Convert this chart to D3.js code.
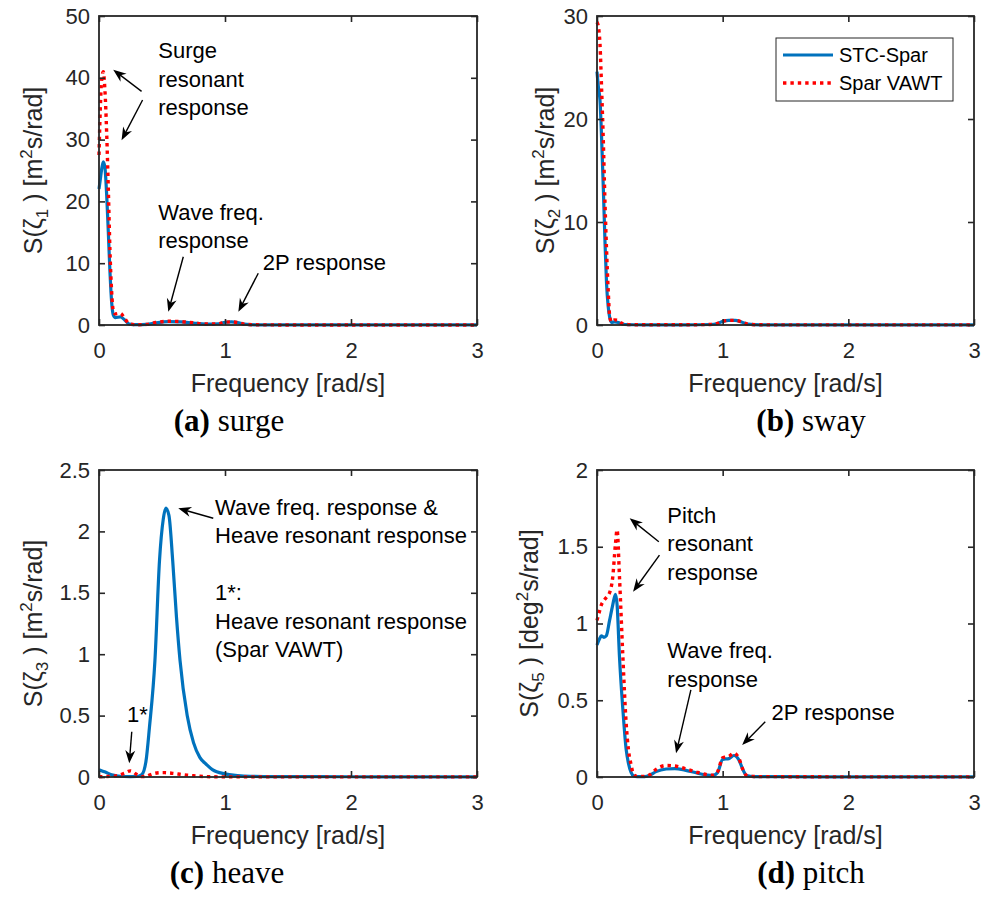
<!DOCTYPE html>
<html><head><meta charset="utf-8">
<script src="https://cdn.jsdelivr.net/npm/d3@7/dist/d3.min.js"></script>
<style>body{margin:0;background:#fff;} svg{display:block;}</style>
</head><body><svg id="chart" width="981" height="899"></svg>
<script>
// ---------------- data ----------------
const xTicks = [0, 1, 2, 3];
const seriesNames = ["STC-Spar", "Spar VAWT"];

const freqSurge = [0, 0.01, 0.021, 0.034, 0.047, 0.061, 0.074, 0.087, 0.1, 0.114, 0.13, 0.17, 0.2, 0.24, 0.3, 0.38, 0.45, 0.55, 0.65, 0.75, 0.85, 0.95, 1.0, 1.05, 1.1, 1.15, 1.25, 1.5, 2, 2.5, 3];
const surgeSTC  = [22, 23.5, 25.2, 26.4, 25.5, 21, 15, 8.6, 3.8, 1.6, 1.2, 1.3, 0.9, 0.15, 0.05, 0.1, 0.35, 0.55, 0.5, 0.3, 0.15, 0.2, 0.45, 0.5, 0.4, 0.15, 0.03, 0.01, 0.01, 0.01, 0.01];
const surgeVAWT = [27.5, 34.8, 39.6, 41, 38, 31, 22, 12, 5.5, 2.2, 1.8, 1.9, 1.2, 0.2, 0.05, 0.1, 0.4, 0.6, 0.55, 0.35, 0.15, 0.2, 0.45, 0.5, 0.4, 0.15, 0.03, 0.01, 0.01, 0.01, 0.01];
const surgeTicks = [0, 10, 20, 30, 40, 50];

const freqSway = [0, 0.012, 0.024, 0.037, 0.05, 0.063, 0.076, 0.089, 0.1, 0.115, 0.14, 0.17, 0.2, 0.25, 0.4, 0.7, 0.9, 0.96, 1.0, 1.05, 1.1, 1.15, 1.2, 1.3, 1.6, 2, 2.5, 3];
const swaySTC  = [24.6, 23, 21.8, 18, 13.4, 8.3, 4, 1.8, 0.8, 0.25, 0.3, 0.25, 0.1, 0.03, 0.02, 0.02, 0.05, 0.15, 0.35, 0.45, 0.45, 0.3, 0.08, 0.02, 0.01, 0.01, 0.01, 0.01];
const swayVAWT = [29.4, 28.9, 27.2, 22.8, 18, 12.1, 7.3, 3.4, 1.0, 0.3, 0.5, 0.45, 0.15, 0.04, 0.02, 0.02, 0.05, 0.15, 0.35, 0.45, 0.45, 0.3, 0.08, 0.02, 0.01, 0.01, 0.01, 0.01];
const swayTicks = [0, 10, 20, 30];

const freqHeave = [0, 0.05, 0.1, 0.15, 0.2, 0.25, 0.3, 0.34, 0.373, 0.4, 0.444, 0.48, 0.51, 0.53, 0.555, 0.585, 0.615, 0.643, 0.7, 0.75, 0.8, 0.855, 0.9, 1.0, 1.1, 1.2, 1.4, 2, 2.5, 3];
const heaveSTC  = [0.06, 0.04, 0.018, 0.008, 0.004, 0.003, 0.004, 0.02, 0.13, 0.4, 0.95, 1.76, 2.1, 2.19, 2.13, 1.76, 1.3, 0.95, 0.5, 0.28, 0.16, 0.1, 0.06, 0.025, 0.012, 0.006, 0.003, 0.002, 0.001, 0.001];
const heaveVAWT = [0.003, 0.004, 0.006, 0.012, 0.03, 0.05, 0.02, 0.003, 0.005, 0.015, 0.03, 0.035, 0.036, 0.035, 0.033, 0.03, 0.026, 0.022, 0.015, 0.01, 0.006, 0.003, 0.002, 0.001, 0.001, 0.001, 0.001, 0.001, 0.001, 0.001];
const heaveTicks = [0, 0.5, 1, 1.5, 2, 2.5];

const freqPitch = [0, 0.02, 0.034, 0.055, 0.074, 0.1, 0.125, 0.147, 0.16, 0.179, 0.205, 0.232, 0.25, 0.271, 0.29, 0.32, 0.38, 0.42, 0.47, 0.55, 0.62, 0.7, 0.8, 0.88, 0.92, 0.96, 1.0, 1.05, 1.09, 1.13, 1.16, 1.19, 1.25, 1.5, 2, 2.5, 3];
const pitchSTC  = [0.86, 0.9, 0.92, 0.91, 0.92, 1.02, 1.12, 1.19, 1.12, 0.78, 0.45, 0.18, 0.09, 0.03, 0.008, 0.003, 0.003, 0.012, 0.035, 0.052, 0.055, 0.045, 0.025, 0.012, 0.01, 0.03, 0.115, 0.12, 0.14, 0.11, 0.05, 0.01, 0.003, 0.002, 0.001, 0.001, 0.001];
const pitchVAWT = [1.02, 1.08, 1.12, 1.15, 1.17, 1.2, 1.3, 1.52, 1.61, 1.3, 0.8, 0.35, 0.18, 0.08, 0.02, 0.004, 0.004, 0.015, 0.05, 0.075, 0.072, 0.055, 0.03, 0.015, 0.012, 0.035, 0.125, 0.135, 0.155, 0.12, 0.05, 0.01, 0.003, 0.002, 0.001, 0.001, 0.001];
const pitchTicks = [0, 0.5, 1, 1.5, 2];

// ---------------- styling / layout ----------------
const SANS = '"Liberation Sans", Arial, Helvetica, sans-serif';
const SERIF = '"Liberation Serif", "Times New Roman", serif';
const AXC = '#262626';
const BLUE = '#0072BD', RED = '#FF0000';

const panels = [
  { box: {l: 99, r: 477, t: 16, b: 325}, ymax: 50, yticks: surgeTicks, f: freqSurge, s: [surgeSTC, surgeVAWT],
    sub: '1', unit: 'm', ylabX: 42, capX: 229, capTag: '(a)', capText: ' surge',
    texts: [
      {f: 0.47, v: 43.2, lines: ['Surge', 'resonant', 'response']},
      {f: 0.47, v: 17.0, lines: ['Wave freq.', 'response']},
      {f: 1.30, v: 8.9, lines: ['2P response']}
    ],
    arrows: [
      [0.338, 37.8, 0.113, 41.3], [0.346, 36.4, 0.179, 29.9],
      [0.669, 11.05, 0.55, 2.15], [1.264, 8.37, 1.106, 2.15]
    ] },
  { box: {l: 597, r: 974, t: 16, b: 325}, ymax: 30, yticks: swayTicks, f: freqSway, s: [swaySTC, swayVAWT],
    sub: '2', unit: 'm', ylabX: 554, capX: 811, capTag: '(b)', capText: ' sway', legend: true,
    texts: [], arrows: [] },
  { box: {l: 99, r: 477, t: 470, b: 777}, ymax: 2.5, yticks: heaveTicks, f: freqHeave, s: [heaveSTC, heaveVAWT],
    sub: '3', unit: 'm', ylabX: 42, capX: 227, capTag: '(c)', capText: ' heave',
    texts: [
      {f: 0.921, v: 2.134, lines: ['Wave freq. response &', 'Heave resonant response']},
      {f: 0.921, v: 1.441, lines: ['1*:', 'Heave resonant response', '(Spar VAWT)']},
      {f: 0.222, v: 0.448, lines: ['1*']}
    ],
    arrows: [[0.907, 2.107, 0.629, 2.188], [0.26, 0.369, 0.24, 0.112]] },
  { box: {l: 597, r: 974, t: 470, b: 777}, ymax: 2, yticks: pitchTicks, f: freqPitch, s: [pitchSTC, pitchVAWT],
    sub: '5', unit: 'deg', ylabX: 538, capX: 811, capTag: '(d)', capText: ' pitch',
    texts: [
      {f: 0.56, v: 1.655, lines: ['Pitch', 'resonant', 'response']},
      {f: 0.56, v: 0.775, lines: ['Wave freq.', 'response']},
      {f: 1.389, v: 0.371, lines: ['2P response']}
    ],
    arrows: [
      [0.492, 1.533, 0.26, 1.685], [0.497, 1.446, 0.287, 1.207],
      [0.747, 0.567, 0.629, 0.154], [1.339, 0.36, 1.155, 0.208]
    ] }
];

const svg = d3.select('#chart');

function arrow(g, x0, y0, x1, y1) {
  const dx = x1 - x0, dy = y1 - y0, len = Math.hypot(dx, dy);
  const ux = dx / len, uy = dy / len, nx = -uy, ny = ux;
  const L = 13, W = 5, N = 9;
  g.append('line').attr('x1', x0).attr('y1', y0)
    .attr('x2', x1 - ux * (N - 1)).attr('y2', y1 - uy * (N - 1))
    .attr('stroke', '#000').attr('stroke-width', 1.4);
  const pts = [[x1, y1], [x1 - ux * L + nx * W, y1 - uy * L + ny * W],
               [x1 - ux * N, y1 - uy * N], [x1 - ux * L - nx * W, y1 - uy * L - ny * W]];
  g.append('path').attr('d', 'M' + pts.map(p => p.join(',')).join('L') + 'Z').attr('fill', '#000');
}

panels.forEach(p => {
  const {l, r, t, b} = p.box;
  const x = d3.scaleLinear().domain([0, 3]).range([l, r]);
  const y = d3.scaleLinear().domain([0, p.ymax]).range([b, t]);
  const g = svg.append('g');

  // series
  const line = (vals) => d3.line().x((d, i) => x(p.f[i])).y(d => y(d)).curve(d3.curveMonotoneX)(vals);
  g.append('path').attr('d', line(p.s[0])).attr('fill', 'none').attr('stroke', BLUE)
    .attr('stroke-width', 3.2).attr('stroke-linejoin', 'round');
  g.append('path').attr('d', line(p.s[1])).attr('fill', 'none').attr('stroke', RED)
    .attr('stroke-width', 3.4).attr('stroke-dasharray', '3.4,4');

  // axes
  const ax = g.append('g').attr('font-family', SANS);
  ax.append('g').attr('transform', `translate(0,${b})`)
    .call(d3.axisBottom(x).tickValues(xTicks).tickSize(-6).tickPadding(17).tickFormat(d3.format('d')));
  ax.append('g').attr('transform', `translate(${l},0)`)
    .call(d3.axisLeft(y).tickValues(p.yticks).tickSize(-6).tickPadding(9).tickFormat(d => String(d)));
  ax.append('g').attr('transform', `translate(0,${t})`)
    .call(d3.axisTop(x).tickValues(xTicks).tickSize(-6).tickFormat(''));
  ax.append('g').attr('transform', `translate(${r},0)`)
    .call(d3.axisRight(y).tickValues(p.yticks).tickSize(-6).tickFormat(''));
  ax.selectAll('.domain').remove();
  ax.selectAll('.tick line').attr('stroke', AXC).attr('stroke-width', 1.6);
  ax.selectAll('.tick text').attr('fill', AXC).attr('font-size', 22).attr('font-family', SANS);
  g.append('rect').attr('x', l).attr('y', t).attr('width', r - l).attr('height', b - t)
    .attr('fill', 'none').attr('stroke', AXC).attr('stroke-width', 1.8);

  // x label
  g.append('text').attr('x', (l + r) / 2).attr('y', b + 67).attr('text-anchor', 'middle')
    .attr('font-family', SANS).attr('font-size', 25).attr('fill', AXC).text('Frequency [rad/s]');

  // y label
  const yl = g.append('text').attr('transform', `translate(${p.ylabX},${(t + b) / 2}) rotate(-90)`)
    .attr('text-anchor', 'middle').attr('font-family', SANS).attr('font-size', 25).attr('fill', AXC);
  yl.append('tspan').text('S(ζ');
  yl.append('tspan').attr('font-size', 17).attr('dy', 6).text(p.sub);
  yl.append('tspan').attr('dy', -6).text(' ) [' + p.unit);
  yl.append('tspan').attr('font-size', 17).attr('dy', -10).text('2');
  yl.append('tspan').attr('dy', 10).text('s/rad]');

  // annotations
  const an = g.append('g').attr('font-family', SANS).attr('font-size', 22).attr('fill', '#000');
  p.texts.forEach(tx => {
    const te = an.append('text').attr('x', x(tx.f)).attr('y', y(tx.v));
    tx.lines.forEach((ln, i) => te.append('tspan').attr('x', x(tx.f)).attr('dy', i ? 28.5 : 0).text(ln));
  });
  p.arrows.forEach(a => arrow(an, x(a[0]), y(a[1]), x(a[2]), y(a[3])));

  // legend
  if (p.legend) {
    const lg = g.append('g').attr('font-family', SANS).attr('font-size', 20);
    lg.append('rect').attr('x', 776).attr('y', 38).attr('width', 177).attr('height', 63)
      .attr('fill', '#fff').attr('stroke', AXC).attr('stroke-width', 1);
    seriesNames.forEach((nm, i) => {
      const yy = 55 + i * 28;
      lg.append('line').attr('x1', 783).attr('x2', 833).attr('y1', yy).attr('y2', yy)
        .attr('stroke', i ? RED : BLUE).attr('stroke-width', i ? 3.4 : 3.2)
        .attr('stroke-dasharray', i ? '3.4,4' : null);
      lg.append('text').attr('x', 839).attr('y', yy + 7).attr('fill', '#000').text(nm);
    });
  }

  // caption
  const cap = svg.append('text').attr('x', p.capX).attr('y', b + 106).attr('text-anchor', 'middle')
    .attr('font-family', SERIF).attr('font-size', 31).attr('fill', '#000');
  cap.append('tspan').attr('font-weight', 'bold').text(p.capTag);
  cap.append('tspan').text(p.capText);
});
</script>
</body></html>
